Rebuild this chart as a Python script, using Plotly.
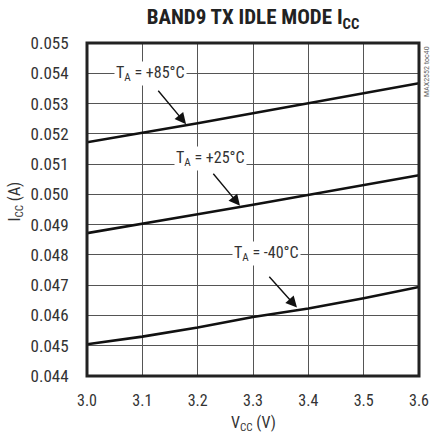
import plotly.graph_objects as go

vcc = [3.0, 3.1, 3.2, 3.3, 3.4, 3.5, 3.6]
icc_85 = [0.05172, 0.05203, 0.05235, 0.05268, 0.05301, 0.05334, 0.05367]
icc_25 = [0.04872, 0.04902, 0.04934, 0.04966, 0.04998, 0.05030, 0.05063]
icc_m40 = [0.04505, 0.04530, 0.04560, 0.04595, 0.04623, 0.04657, 0.04694]

x_ticks = [3.0, 3.1, 3.2, 3.3, 3.4, 3.5, 3.6]
x_tick_labels = ["3.0", "3.1", "3.2", "3.3", "3.4", "3.5", "3.6"]
y_ticks = [0.044, 0.045, 0.046, 0.047, 0.048, 0.049, 0.050, 0.051, 0.052, 0.053, 0.054, 0.055]
y_tick_labels = ["%.3f" % v for v in y_ticks]

labels = ["T<sub>A</sub> = +85°C", "T<sub>A</sub> = +25°C", "T<sub>A</sub> = -40°C"]
label_pos = [(3.114, 0.05400), (3.224, 0.05118), (3.325, 0.04806)]
arrow_tail = [(3.1265, 0.05347), (3.226, 0.05073), (3.327, 0.04733)]
arrow_head = [(3.179, 0.05232), (3.2765, 0.04962), (3.3795, 0.04626)]

FONT = "Liberation Sans Narrow, Arial Narrow, Roboto Condensed, sans-serif"

fig = go.Figure()
for ys in (icc_85, icc_25, icc_m40):
    fig.add_trace(go.Scatter(x=vcc, y=ys, mode="lines", line=dict(color="#111", width=2.6),
                             showlegend=False, hoverinfo="skip"))

annotations = []
for (lx, ly), (tx, ty), (hx, hy) in zip(label_pos, arrow_tail, arrow_head):
    annotations.append(dict(x=hx, y=hy, ax=tx, ay=ty, xref="x", yref="y", axref="x", ayref="y",
                            text="", showarrow=True, arrowhead=2, arrowsize=1.6, arrowwidth=1.4,
                            arrowcolor="#111"))
for (lx, ly), t in zip(label_pos, labels):
    annotations.append(dict(x=lx, y=ly, xref="x", yref="y", text=t, showarrow=False,
                            bgcolor="white", borderpad=1,
                            font=dict(family=FONT, size=16, color="#333")))
annotations.append(dict(x=1.0, y=1.0, xref="paper", yref="paper", xanchor="left", yanchor="top",
                        xshift=1, yshift=-1, text="MAX2552 toc40", textangle=-90, showarrow=False,
                        font=dict(family=FONT, size=8, color="#666")))
# axis titles
annotations.append(dict(x=0.5, y=0, xref="paper", yref="paper", xanchor="center", yanchor="middle",
                        yshift=-47, text="V<sub>CC</sub> (V)", showarrow=False,
                        font=dict(family=FONT, size=16, color="#333")))
annotations.append(dict(x=0, y=0.5, xref="paper", yref="paper", xanchor="center", yanchor="middle",
                        xshift=-72, yshift=8, text="I<sub>CC</sub> (A)", textangle=-90, showarrow=False,
                        font=dict(family=FONT, size=16, color="#333")))

fig.update_layout(
    template="none",
    width=430, height=438,
    margin=dict(l=87, r=11, t=43, b=62),
    paper_bgcolor="white", plot_bgcolor="white",
    title=dict(text="<b>BAND9 TX IDLE MODE I<sub>CC</sub></b>", x=0.5, xref="paper",
               y=0.961, yref="container", yanchor="middle",
               font=dict(family=FONT, size=21, color="#222")),
    xaxis=dict(range=[3.0, 3.6], tickvals=x_ticks, ticktext=x_tick_labels, showgrid=True,
               gridcolor="#555", gridwidth=1, zeroline=False, automargin=False,
               ticks="outside", ticklen=10, tickcolor="rgba(0,0,0,0)", showline=False,
               tickfont=dict(family=FONT, size=16, color="#333")),
    yaxis=dict(range=[0.044, 0.055], tickvals=y_ticks, ticktext=y_tick_labels, showgrid=True,
               gridcolor="#555", gridwidth=1, zeroline=False, automargin=False,
               ticks="outside", ticklen=14, tickcolor="rgba(0,0,0,0)", showline=False,
               tickfont=dict(family=FONT, size=17, color="#333")),
    annotations=annotations,
    shapes=[dict(type="rect", xref="paper", yref="paper", x0=0, y0=0, x1=1, y1=1,
                 line=dict(color="#222", width=3))],
)

fig.write_html("out.html", config={"displayModeBar": False},
               post_script="document.body.style.margin='0';document.body.style.overflow='hidden';"
                           "document.documentElement.style.overflow='hidden';")
